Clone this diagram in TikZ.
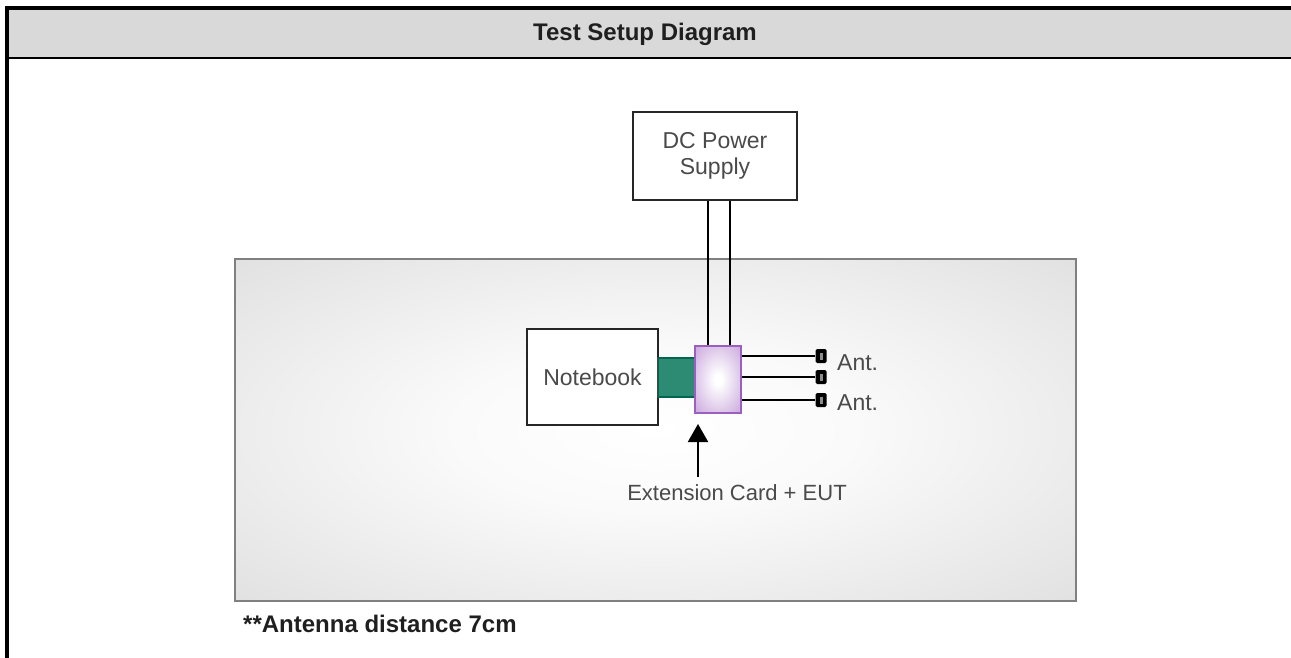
\documentclass[tikz,border=0pt]{standalone}
\usepackage{fontspec}
\setmainfont{Liberation Sans}
\usetikzlibrary{arrows.meta}
\definecolor{hdrgray}{HTML}{D9D9D9}
\definecolor{boardedge}{HTML}{808080}
\definecolor{cardpurple}{HTML}{C6A0DA}
\definecolor{cardborder}{HTML}{9B5FC0}
\definecolor{greenfill}{HTML}{2E8B73}
\definecolor{greenborder}{HTML}{00664F}
\definecolor{labelgray}{HTML}{4A4A4A}
\definecolor{boardgray}{HTML}{D2D2D2}
\pgfdeclareradialshading{boardshade}{\pgfpoint{0bp}{0bp}}{color(0bp)=(white); color(12bp)=(white!98!black); color(50bp)=(boardgray); color(71bp)=(black!20)}
\pgfdeclareradialshading{cardshade}{\pgfpoint{0bp}{0bp}}{color(0bp)=(white); color(4bp)=(white); color(38bp)=(cardpurple); color(71bp)=(cardpurple)}
\begin{document}
\begin{tikzpicture}[x=1pt,y=-1pt,
  labeltext/.style={font=\fontsize{23}{26}\selectfont, text=labelgray, inner sep=0pt},
  boldtext/.style={font=\fontsize{24}{28}\selectfont\bfseries, text=black!88, inner sep=0pt},
  whitebox/.style={draw=black!85, line width=1.4pt, fill=white, inner sep=0pt, align=center},
  antblk/.style={fill=black, rounded corners=1.5pt, minimum width=11pt, minimum height=14pt, inner sep=0pt},
  wire/.style={draw=black, line width=1.5pt},
]
\useasboundingbox (0,0) rectangle (1291,658);
% frame and header
\fill[hdrgray] (9,10) rectangle (1291,57);
\fill[black] (5,6) rectangle (1291,10);
\fill[black] (5,6) rectangle (9,658);
\fill[black] (9,57) rectangle (1291,59);
\node[boldtext] (title) at (645,34) {Test Setup Diagram};
% board
\node[shade, shading=boardshade, draw=boardedge, line width=2pt, minimum width=841pt, minimum height=342pt, inner sep=0pt] (board) at (655.5,430) {};
% boxes
\node[whitebox, minimum width=164pt, minimum height=88pt, labeltext, text=labelgray, align=center] (dc) at (715,156) {DC Power\\Supply};
\node[whitebox, minimum width=131pt, minimum height=96pt, labeltext, text=labelgray] (nb) at (592.5,377) {Notebook};
\node[draw=greenborder, fill=greenfill, line width=2pt, minimum width=38pt, minimum height=39pt, inner sep=0pt] (slot) at (677,377.5) {};
\node[shade, shading=cardshade, draw=cardborder, line width=2pt, minimum width=46pt, minimum height=67pt, inner sep=0pt] (card) at (718,379.5) {};
% power wires
\draw[wire] ([xshift=-7pt]dc.south) -- ([xshift=-7pt]dc.south |- card.north);
\draw[wire] ([xshift=15pt]dc.south) -- ([xshift=15pt]dc.south |- card.north);
% antenna blocks
\node[antblk] (a1) at (821,356) {};
\node[antblk] (a2) at (821,377) {};
\node[antblk] (a3) at (821,400) {};
\foreach \n in {a1,a2,a3}{
  \fill[black!45] ([xshift=-1.5pt,yshift=-3.5pt]\n.center) rectangle ([xshift=1.5pt,yshift=3.5pt]\n.center);
  \draw[wire] (card.east |- \n.center) -- (\n.west);
}
\node[labeltext, anchor=west] (ant1) at (837,363) {Ant.};
\node[labeltext, anchor=west] (ant3) at (837,403) {Ant.};
% arrow and label
\node[labeltext, font=\fontsize{22}{26}\selectfont] (ext) at (737,493) {Extension Card + EUT};
\coordinate (arrtail) at (698,477);
\coordinate (arrtip) at (698,424);
\draw[line width=2pt, -{Triangle[width=20pt,length=18pt]}] (arrtail) -- (arrtip);
% footnote
\node[boldtext, anchor=west] (foot) at (243,624) {**Antenna distance 7cm};
\end{tikzpicture}
\end{document}
